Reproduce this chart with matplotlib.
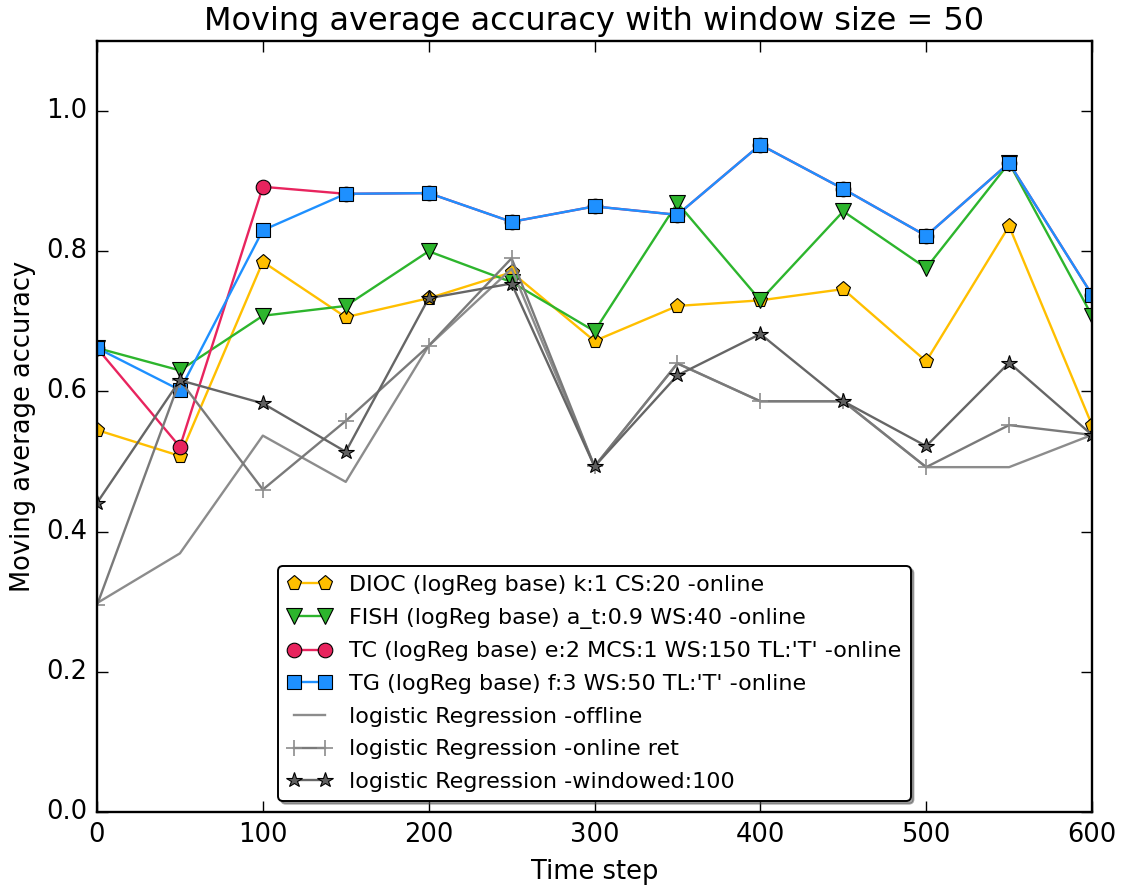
import matplotlib
matplotlib.use("Agg")
import matplotlib.pyplot as plt

plt.style.use("classic")
plt.rcParams['font.family'] = ['DejaVu Sans']

time_steps = [0, 50, 100, 150, 200, 250, 300, 350, 400, 450, 500, 550, 600]
dioc = [0.545, 0.508, 0.785, 0.706, 0.733, 0.770, 0.672, 0.722, 0.730, 0.746, 0.643, 0.836, 0.552]
fish = [0.662, 0.630, 0.708, 0.722, 0.800, 0.756, 0.686, 0.869, 0.730, 0.857, 0.776, 0.926, 0.708]
tc = [0.662, 0.521, 0.892, 0.882, 0.883, 0.842, 0.864, 0.852, 0.952, 0.889, 0.822, 0.926, 0.738]
tg = [0.662, 0.602, 0.830, 0.882, 0.883, 0.842, 0.864, 0.852, 0.952, 0.889, 0.822, 0.926, 0.738]
lr_offline = [0.298, 0.369, 0.537, 0.471, 0.665, 0.775, 0.493, 0.640, 0.586, 0.586, 0.492, 0.492, 0.538]
lr_online = [0.295, 0.616, 0.460, 0.558, 0.665, 0.790, 0.493, 0.640, 0.586, 0.586, 0.492, 0.552, 0.538]
lr_windowed = [0.441, 0.616, 0.583, 0.514, 0.733, 0.754, 0.493, 0.623, 0.682, 0.586, 0.522, 0.641, 0.538]

labels = [
    "DIOC (logReg base) k:1 CS:20 -online",
    "FISH (logReg base) a_t:0.9 WS:40 -online",
    "TC (logReg base) e:2 MCS:1 WS:150 TL:'T' -online",
    "TG (logReg base) f:3 WS:50 TL:'T' -online",
    "logistic Regression -offline",
    "logistic Regression -online ret",
    "logistic Regression -windowed:100",
]

fig = plt.figure(figsize=(11.23, 8.85), dpi=100, facecolor='white')
ax = fig.add_axes([97/1123, 1 - 812/885, (1092-97)/1123, (812-41)/885])

lw = 1.7
ax.plot(time_steps, dioc, color='#FFBF00', marker='p', markersize=11, markerfacecolor='#FFBF00',
        markeredgecolor='black', markeredgewidth=0.8, linewidth=lw, label=labels[0])
ax.plot(time_steps, fish, color='#2DB52D', marker='v', markersize=12, markerfacecolor='#2DB52D',
        markeredgecolor='black', markeredgewidth=0.8, linewidth=lw, label=labels[1])
ax.plot(time_steps, tc, color='#E8245E', marker='o', markersize=10.5, markerfacecolor='#E8245E',
        markeredgecolor='black', markeredgewidth=0.8, linewidth=lw, label=labels[2])
ax.plot(time_steps, tg, color='#1E90FF', marker='s', markersize=10.5, markerfacecolor='#1E90FF',
        markeredgecolor='black', markeredgewidth=0.8, linewidth=lw, label=labels[3])
ax.plot(time_steps, lr_offline, color='#8C8C8C', linewidth=lw, label=labels[4])
ax.plot(time_steps, lr_online, color='#7A7A7A', marker='+', markersize=12, markeredgecolor='#8C8C8C',
        markeredgewidth=1.2, linewidth=lw, label=labels[5])
ax.plot(time_steps, lr_windowed, color='#666666', marker='*', markersize=11.5, markerfacecolor='#606060',
        markeredgecolor='black', markeredgewidth=0.8, linewidth=lw, label=labels[6])

ax.set_xlim(0, 600)
ax.set_ylim(0, 1.1)
ax.set_xticks([0, 100, 200, 300, 400, 500, 600])
ax.set_yticks([0.0, 0.2, 0.4, 0.6, 0.8, 1.0])
ax.tick_params(labelsize=18.5, length=8, width=1, pad=7)
for s in ax.spines.values():
    s.set_linewidth(1.7)

ax.set_title("Moving average accuracy with window size = 50", fontsize=23, pad=8)
ax.set_xlabel("Time step", fontsize=18.5, labelpad=8)
ax.set_ylabel("Moving average accuracy", fontsize=18.5, labelpad=7)

leg = ax.legend(loc='lower center', numpoints=2, fontsize=16, shadow=True, fancybox=True,
                borderaxespad=0.5, handlelength=2.0, labelspacing=0.57)
leg.get_frame().set_linewidth(1.4)

fig.savefig("out.png", dpi=100, facecolor='white')
